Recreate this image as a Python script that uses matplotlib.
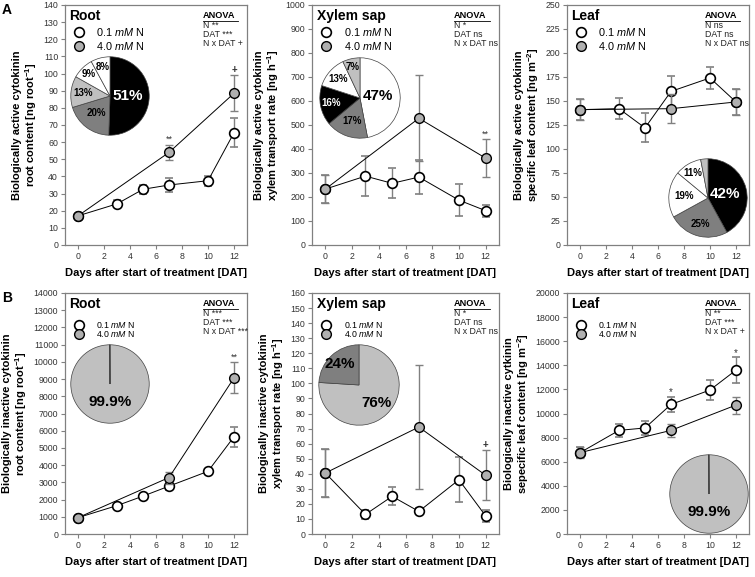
import matplotlib
matplotlib.use('Agg')
import matplotlib.pyplot as plt
import numpy as np

plt.rcParams['font.family'] = ['Liberation Sans', 'DejaVu Sans']
plt.rcParams['mathtext.fontset'] = 'custom'
plt.rcParams['mathtext.rm'] = 'Liberation Sans'
plt.rcParams['mathtext.it'] = 'Liberation Sans:italic'
plt.rcParams['mathtext.bf'] = 'Liberation Sans:bold'

# ---- data ----
days_low = [0, 3, 5, 7, 10, 12]
days_high = [0, 7, 12]

# A: biologically active
a_root_low = [17, 24, 32.5, 35, 37.5, 65.5]
a_root_low_err = [1, 2, 2.5, 4, 3, 8.5]
a_root_high = [17, 54, 88.5]
a_root_high_err = [1, 4.5, 10.5]

a_xyl_low = [233, 287, 257, 283, 187, 143]
a_xyl_low_err = [60, 83, 62, 72, 66, 25]
a_xyl_high = [233, 528, 362]
a_xyl_high_err = [60, 180, 80]

a_leaf_low = [141, 142, 122, 160, 174, 149]
a_leaf_low_err = [11, 11, 15, 16, 11, 14]
a_leaf_high = [141, 142, 149]
a_leaf_high_err = [11, 15, 14]

# B: biologically inactive
b_root_low = [950, 1650, 2200, 2780, 3640, 5650]
b_root_low_err = [100, 100, 150, 250, 150, 580]
b_root_high = [950, 3280, 9070]
b_root_high_err = [100, 350, 900]

b_xyl_low = [40.5, 13, 25, 15, 36, 12]
b_xyl_low_err = [16, 3, 6, 2, 15, 4]
b_xyl_high = [40.5, 71, 39]
b_xyl_high_err = [16, 41, 16.5]

b_leaf_low = [6750, 8600, 8800, 10750, 11950, 13600]
b_leaf_low_err = [450, 550, 600, 650, 800, 1050]
b_leaf_high = [6750, 8600, 10700]
b_leaf_high_err = [450, 550, 700]

# pies (clockwise from top)
pie_a_root = [51, 20, 13, 9, 8]
pie_a_root_lab = ['51%', '20%', '13%', '9%', '8%']
pie_a_xyl = [47, 17, 16, 13, 7]
pie_a_xyl_lab = ['47%', '17%', '16%', '13%', '7%']
pie_a_leaf = [42, 25, 19, 11, 3]
pie_a_leaf_lab = ['42%', '25%', '19%', '11%', '']
pie_b_root = [99.9, 0.1]
pie_b_root_lab = ['99.9%', '']
pie_b_xyl = [76, 24]
pie_b_xyl_lab = ['76%', '24%']
pie_b_leaf = [99.9, 0.1]
pie_b_leaf_lab = ['99.9%', '']

K, DG, LG, W = 'black', '#7f7f7f', '#c0c0c0', 'white'
GREY = '#808080'

fig = plt.figure(figsize=(7.55, 5.77), dpi=100)

W_PX, H_PX = 755, 577


def px_axes(l, t, r, b):
    return fig.add_axes([l / W_PX, 1 - b / H_PX, (r - l) / W_PX, (b - t) / H_PX])


def panel(ax, low, low_err, high, high_err, ymax, ystep, ylabel, title, anova, legsize):
    ax.errorbar(days_low, low, yerr=low_err, fmt='-o', color='black', lw=0.7,
                ecolor=GREY, elinewidth=1.0, capsize=3, capthick=1.0,
                mfc='white', mec='black', mew=1.2, ms=7, zorder=3)
    ax.errorbar(days_high, high, yerr=high_err, fmt='-o', color='black', lw=0.7,
                ecolor=GREY, elinewidth=1.0, capsize=3, capthick=1.0,
                mfc='#b0b0b0', mec='black', mew=1.0, ms=7, zorder=4)
    ax.set_xlim(-1, 13)
    ax.set_ylim(0, ymax)
    ax.set_xticks(range(0, 13, 2))
    ax.set_yticks(np.arange(0, ymax + 1, ystep))
    for s in ax.spines.values():
        s.set_color(GREY)
        s.set_linewidth(0.9)
    ax.tick_params(direction='out', length=3, width=0.8, color=GREY,
                   labelsize=6.3, labelcolor='#333333', pad=2)
    ax.set_xlabel('Days after start of treatment [DAT]', fontsize=8,
                  fontweight='bold', labelpad=5)
    ax.set_ylabel(ylabel, fontsize=8, fontweight='bold', labelpad=3,
                  linespacing=1.1)
    ax.text(0.025, 0.955, title, transform=ax.transAxes, fontsize=10,
            fontweight='bold', va='center', ha='left')
    ys = [0.888, 0.83] if legsize > 7 else [0.868, 0.83]
    ax.plot([0.075], [ys[0]], 'o', transform=ax.transAxes, ms=7,
            mfc='white', mec='black', mew=1.2, clip_on=False)
    ax.plot([0.075], [ys[1]], 'o', transform=ax.transAxes, ms=7,
            mfc='#b0b0b0', mec='black', mew=1.0, clip_on=False)
    ax.text(0.17, ys[0], '0.1 $mM$ N', transform=ax.transAxes,
            fontsize=legsize, va='center')
    ax.text(0.17, ys[1], '4.0 $mM$ N', transform=ax.transAxes,
            fontsize=legsize, va='center')
    ax.text(0.757, 0.958, 'ANOVA', transform=ax.transAxes, fontsize=6.6,
            fontweight='bold', va='center')
    ax.plot([0.757, 0.95], [0.935, 0.935], transform=ax.transAxes,
            color='black', lw=0.6, clip_on=False)
    for i, line in enumerate(anova):
        ax.text(0.757, 0.915 - i * 0.037, line, transform=ax.transAxes,
                fontsize=6.3, va='center', color='#222222')


def pie(cx, cy, r, vals, cols, labs, ldist, tcol, big):
    pa = px_axes(cx - r, cy - r, cx + r, cy + r)
    wedges, texts = pa.pie(vals, colors=cols, startangle=90, counterclock=False,
                           wedgeprops=dict(edgecolor='#404040', linewidth=0.5))
    for w, lab, d, c, b in zip(wedges, labs, ldist, tcol, big):
        ang = np.deg2rad((w.theta1 + w.theta2) / 2)
        pa.text(d * np.cos(ang), d * np.sin(ang), lab, color=c,
                fontweight='bold', fontsize=11 if b else 7,
                ha='center', va='center')
    pa.set_xlim(-1.02, 1.02)
    pa.set_ylim(-1.02, 1.02)
    pa.set_aspect('equal')
    return pa


# ---- row A ----
ax1 = px_axes(65, 5, 247, 245)
panel(ax1, a_root_low, a_root_low_err, a_root_high, a_root_high_err, 140, 10,
      'Biologically active cytokinin\nroot content [ng root$^{\\mathbf{-1}}$]', 'Root',
      ['N **', 'DAT ***', 'N x DAT +'], 7.8)
ax1.text(7, 60, '**', ha='center', fontsize=6.5, color='#333333')
ax1.text(12, 100.5, '+', ha='center', fontsize=7, fontweight='bold', color='#333333')

ax2 = px_axes(312, 5, 499, 245)
panel(ax2, a_xyl_low, a_xyl_low_err, a_xyl_high, a_xyl_high_err, 1000, 100,
      'Biologically active cytokinin\nxylem transport rate [ng h$^{\\mathbf{-1}}$]', 'Xylem sap',
      ['N *', 'DAT ns', 'N x DAT ns'], 7.8)
ax2.text(12, 450, '**', ha='center', fontsize=6.5, color='#333333')

ax3 = px_axes(567, 5, 749, 245)
panel(ax3, a_leaf_low, a_leaf_low_err, a_leaf_high, a_leaf_high_err, 250, 25,
      'Biologically active cytokinin\nspecific leaf content [ng m$^{\\mathbf{-2}}$]', 'Leaf',
      ['N ns', 'DAT ns', 'N x DAT ns'], 7.8)

# ---- row B ----
ax4 = px_axes(65, 293, 247, 534)
panel(ax4, b_root_low, b_root_low_err, b_root_high, b_root_high_err, 14000, 1000,
      'Biologically inactive cytokinin\nroot content [ng root$^{\\mathbf{-1}}$]', 'Root',
      ['N ***', 'DAT ***', 'N x DAT ***'], 6.3)
ax4.text(12, 10150, '**', ha='center', fontsize=6.5, color='#333333')

ax5 = px_axes(312, 293, 499, 534)
panel(ax5, b_xyl_low, b_xyl_low_err, b_xyl_high, b_xyl_high_err, 160, 10,
      'Biologically inactive cytokinin\nxylem transport rate [ng h$^{\\mathbf{-1}}$]', 'Xylem sap',
      ['N *', 'DAT ns', 'N x DAT ns'], 6.3)
ax5.text(12, 57, '+', ha='center', fontsize=7, fontweight='bold', color='#333333')

ax6 = px_axes(567, 293, 749, 534)
panel(ax6, b_leaf_low, b_leaf_low_err, b_leaf_high, b_leaf_high_err, 20000, 2000,
      'Biologically inactive cytkinin\nsepecific leaf content [ng m$^{\\mathbf{-2}}$]', 'Leaf',
      ['N **', 'DAT ***', 'N x DAT +'], 6.3)
ax6.text(7, 11550, '*', ha='center', fontsize=7, color='#333333')
ax6.text(12, 14800, '*', ha='center', fontsize=7, color='#333333')

# ---- pies ----
pie(110, 96, 40, pie_a_root, [K, DG, LG, W, W], pie_a_root_lab,
    [0.45, 0.56, 0.7, 0.77, 0.76],
    ['white', 'black', 'black', 'black', 'black'], [True, False, False, False, False])
pie(360, 98, 41, pie_a_xyl, [W, DG, K, W, LG], pie_a_xyl_lab,
    [0.45, 0.6, 0.72, 0.72, 0.8],
    ['black', 'black', 'white', 'black', 'black'], [True, False, False, False, False])
pie(708, 198, 40, pie_a_leaf, [K, DG, W, W, LG], pie_a_leaf_lab,
    [0.46, 0.68, 0.6, 0.74, 0.8],
    ['white', 'black', 'black', 'black', 'black'], [True, False, False, False, False])
pie(110, 384, 40, pie_b_root, [LG, LG], pie_b_root_lab, [0.45, 0.5],
    ['black', 'black'], [True, False])
pie(359, 385, 41, pie_b_xyl, [LG, DG], pie_b_xyl_lab, [0.62, 0.7],
    ['black', 'black'], [True, True])
pie(709, 494, 40, pie_b_leaf, [LG, LG], pie_b_leaf_lab, [0.45, 0.5],
    ['black', 'black'], [True, False])

fig.text(2 / W_PX, 1 - 10 / H_PX, 'A', fontsize=10, fontweight='bold', va='center')
fig.text(2 / W_PX, 1 - 298 / H_PX, 'B', fontsize=10, fontweight='bold', va='center')

plt.savefig('out.png', dpi=100)
